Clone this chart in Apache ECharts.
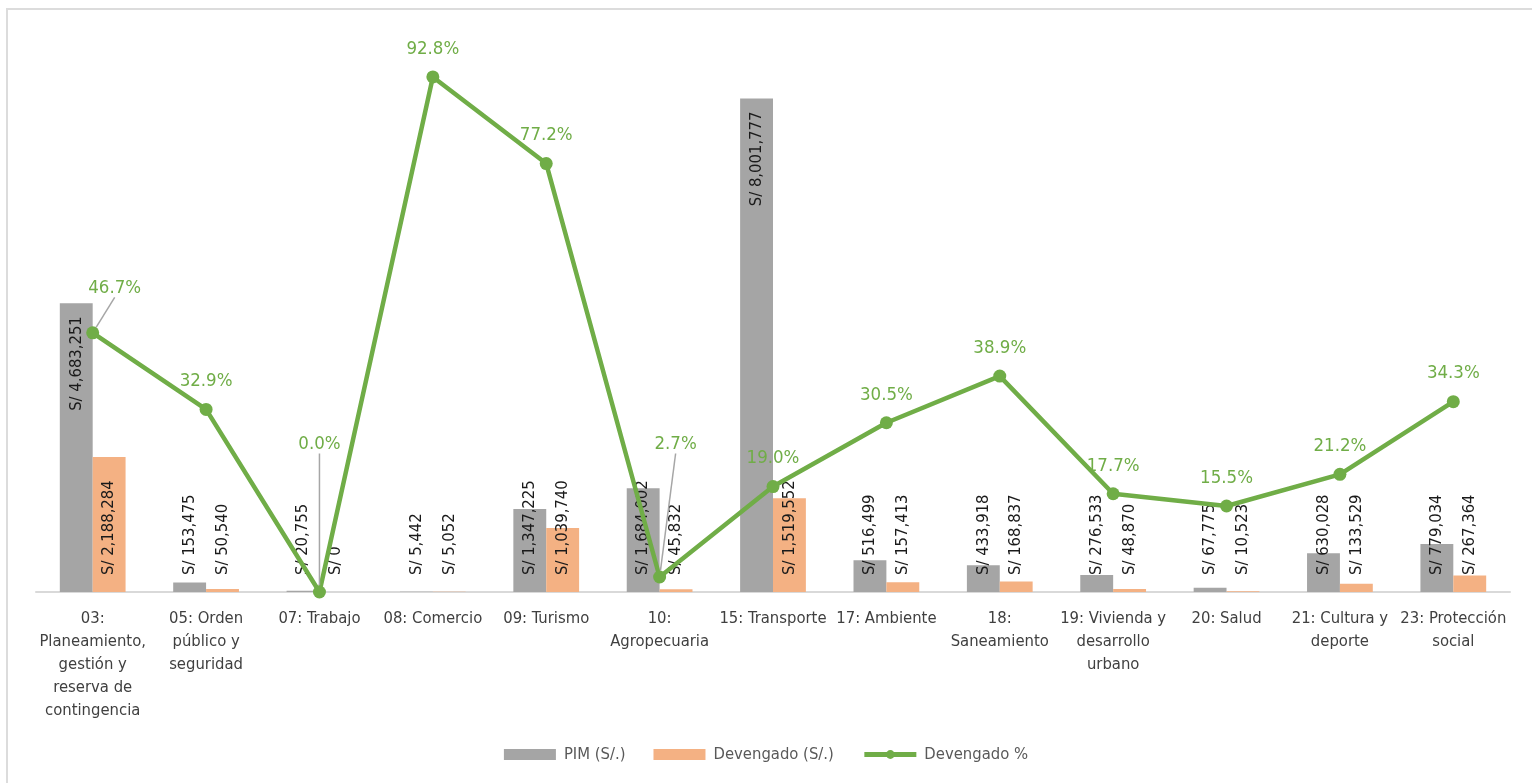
<!DOCTYPE html>
<html>
<head>
<meta charset="utf-8">
<script src="https://cdn.jsdelivr.net/npm/echarts@6/dist/echarts.min.js"></script>
<style>
html,body{margin:0;padding:0;background:#fff;overflow:hidden;}
#frame{position:absolute;left:6px;top:8px;width:1600px;height:900px;border-left:2px solid #dcdcdc;border-top:2px solid #dcdcdc;}
#chart{position:absolute;left:0;top:0;width:1532px;height:783px;}
</style>
</head>
<body>
<div id="frame"></div>
<div id="chart"></div>
<script>
const categories = [
  '03:\nPlaneamiento,\ngestión y\nreserva de\ncontingencia',
  '05: Orden\npúblico y\nseguridad',
  '07: Trabajo',
  '08: Comercio',
  '09: Turismo',
  '10:\nAgropecuaria',
  '15: Transporte',
  '17: Ambiente',
  '18:\nSaneamiento',
  '19: Vivienda y\ndesarrollo\nurbano',
  '20: Salud',
  '21: Cultura y\ndeporte',
  '23: Protección\nsocial'
];
const pim = [4683251, 153475, 20755, 5442, 1347225, 1684002, 8001777, 516499, 433918, 276533, 67775, 630028, 779034];
const devengado = [2188284, 50540, 0, 5052, 1039740, 45832, 1519552, 157413, 168837, 48870, 10523, 133529, 267364];
const devPct = [46.7, 32.9, 0.0, 92.8, 77.2, 2.7, 19.0, 30.5, 38.9, 17.7, 15.5, 21.2, 34.3];

const FONT = '"Liberation Sans Narrow", "DejaVu Sans Condensed", "Open Sans", sans-serif';

function money(v){
  const s = Math.round(v).toString().replace(/\B(?=(\d{3})+(?!\d))/g, ',');
  return 'S/ ' + s;
}

const barLabel = {
  show: true, position: 'insideBottom', rotate: 90, align: 'left', verticalAlign: 'middle',
  distance: 17, color: '#1a1a1a', fontSize: 16.5, fontFamily: FONT,
  formatter: p => money(p.value)
};
const topInside = {position: 'insideTop', align: 'right', distance: 13};

const pimData = pim.map((v, i) => {
  if (i === 0 || i === 6) return {value: v, label: topInside};
  return v;
});

const lineOffsets = {0: [22, -17], 2: [0, -120], 5: [16, -105]};
const pctData = devPct.map((v, i) => {
  if (lineOffsets[i]) return {value: v, labelLine: {show: true, lineStyle: {color: '#a6a6a6', width: 1.5}}};
  return v;
});

const chart = echarts.init(document.getElementById('chart'));
chart.setOption({
  animation: false,
  backgroundColor: 'transparent',
  grid: {left: 36, right: 22, top: 37, bottom: 191, containLabel: false},
  legend: {
    bottom: 15, left: 'center', itemGap: 28, itemWidth: 52, itemHeight: 11,
    textStyle: {color: '#595959', fontSize: 16.5, fontFamily: FONT, padding: [0, 0, 0, 3]},
    data: [
      {name: 'PIM (S/.)', icon: 'rect'},
      {name: 'Devengado (S/.)', icon: 'rect'},
      {name: 'Devengado %', lineStyle: {width: 5}}
    ]
  },
  xAxis: {
    type: 'category', data: categories,
    axisLine: {lineStyle: {color: '#d9d9d9', width: 2}},
    axisTick: {show: false},
    axisLabel: {interval: 0, color: '#404040', fontSize: 16.5, lineHeight: 23, fontFamily: FONT, margin: 15}
  },
  yAxis: [
    {type: 'value', min: 0, max: 9000000, show: false, splitLine: {show: false}},
    {type: 'value', min: 0, max: 100, show: false, splitLine: {show: false}}
  ],
  series: [
    {
      name: 'PIM (S/.)', type: 'bar', data: pimData, barWidth: '29%', barGap: '0%',
      itemStyle: {color: '#a5a5a5'}, label: barLabel, z: 2
    },
    {
      name: 'Devengado (S/.)', type: 'bar', data: devengado, barWidth: '29%', barGap: '0%',
      itemStyle: {color: '#f4b183'}, label: barLabel, z: 2
    },
    {
      name: 'Devengado %', type: 'line', yAxisIndex: 1, data: pctData,
      symbol: 'circle', symbolSize: 13,
      lineStyle: {color: '#70ad47', width: 4.5}, itemStyle: {color: '#70ad47'},
      label: {show: true, position: 'top', distance: 12, color: '#70ad47', fontSize: 18.5, fontFamily: FONT,
        formatter: p => p.value.toFixed(1) + '%'},
      labelLine: {show: false},
      labelLayout: p => {
        const o = lineOffsets[p.dataIndex];
        return o ? {dx: o[0], dy: o[1]} : {};
      },
      z: 5
    }
  ]
});
</script>
</body>
</html>
